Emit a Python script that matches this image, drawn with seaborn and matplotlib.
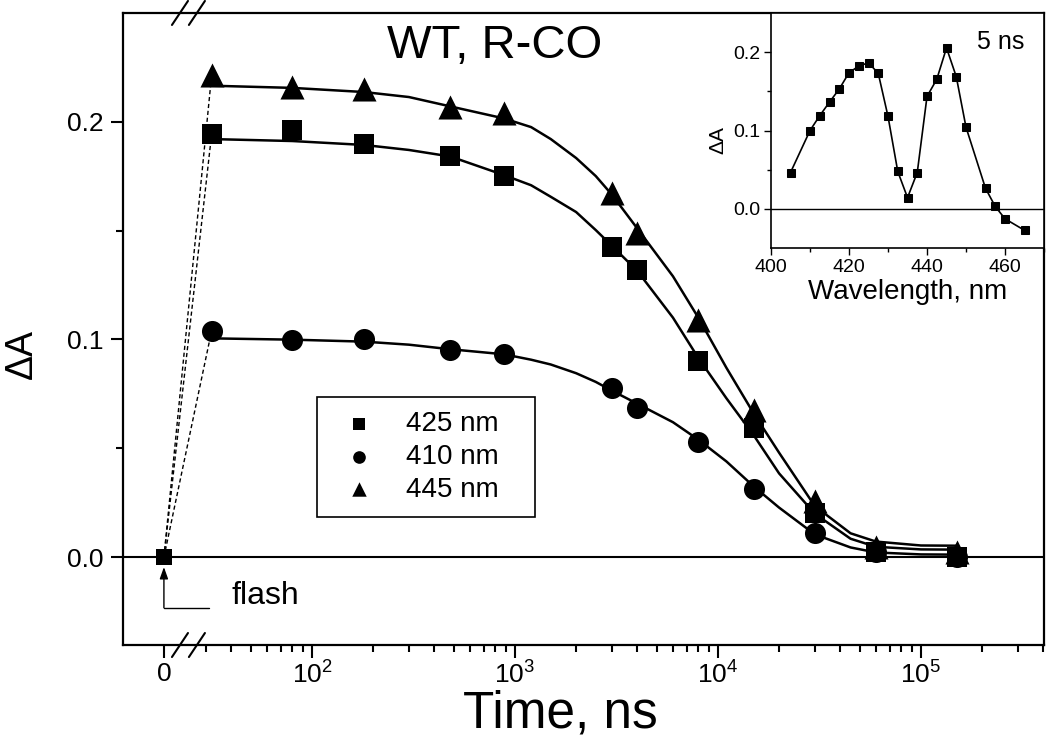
import numpy as np
import pandas as pd
import matplotlib
matplotlib.use("Agg")
import matplotlib.pyplot as plt
from matplotlib.ticker import FixedLocator, FixedFormatter, NullFormatter, FormatStrFormatter
import seaborn as sns

# flash point (t = 0) and the measured kinetics, time in ns
flash_t = [0]
flash_dA = [0.0]
time_ns = [32, 80, 180, 480, 880, 3000, 4000, 8000, 15000, 30000, 60000, 150000]
dA_425 = [0.1943, 0.1962, 0.1898, 0.1843, 0.1751, 0.1425, 0.1319, 0.0903, 0.0595, 0.0205, 0.0026, 0.0003]
dA_410 = [0.1040, 0.0999, 0.1003, 0.0953, 0.0935, 0.0779, 0.0687, 0.0531, 0.0315, 0.0113, 0.0026, 0.0003]
dA_445 = [0.2214, 0.2159, 0.2150, 0.2067, 0.2040, 0.1673, 0.1490, 0.1090, 0.0678, 0.0256, 0.0049, 0.0022]

# fitted curves
fit_t = [32, 80, 180, 300, 480, 880, 1200, 1500, 2000, 2500, 3000, 4000, 6000, 8000,
         11000, 15000, 20000, 30000, 45000, 60000, 100000, 150000]
fit_425 = [0.1920, 0.1911, 0.1893, 0.1870, 0.1840, 0.1755, 0.1708, 0.1655, 0.1585, 0.1502,
           0.1430, 0.1315, 0.1100, 0.0915, 0.0730, 0.0560, 0.0385, 0.0200, 0.0085, 0.0048,
           0.0036, 0.0035]
fit_410 = [0.1005, 0.0999, 0.0990, 0.0976, 0.0955, 0.0932, 0.0907, 0.0885, 0.0845, 0.0805,
           0.0765, 0.0705, 0.0620, 0.0540, 0.0440, 0.0325, 0.0228, 0.0105, 0.0045, 0.0022,
           0.0013, 0.0012]
fit_445 = [0.2165, 0.2155, 0.2136, 0.2113, 0.2070, 0.2015, 0.1975, 0.1920, 0.1833, 0.1750,
           0.1665, 0.1510, 0.1290, 0.1100, 0.0870, 0.0660, 0.0480, 0.0235, 0.0110, 0.0072,
           0.0054, 0.0053]

# inset: difference spectrum at 5 ns
wl_nm = [405, 410, 412.5, 415, 417.5, 420, 422.5, 425, 427.5, 430, 432.5, 435, 437.5,
         440, 442.5, 445, 447.5, 450, 455, 457.5, 460, 465]
dA_5ns = [0.0464, 0.100, 0.119, 0.1363, 0.153, 0.1738, 0.1823, 0.1865, 0.173, 0.118, 0.0477,
          0.0143, 0.0464, 0.1435, 0.1654, 0.2055, 0.1688, 0.1042, 0.0262, 0.0030, -0.0127, -0.0274]

labels = ['425 nm', '410 nm', '445 nm']
markers = ['s', 'o', '^']
sizes = [190, 230, 300]

ZERO_AT = 1.27  # where t = 0 sits on the (broken) log axis

def fwd(x):
    x = np.asarray(x, dtype=float)
    with np.errstate(divide='ignore', invalid='ignore'):
        return np.where(x > 0, np.log10(np.where(x > 0, x, 1.0)), ZERO_AT)

def inv(y):
    return np.power(10.0, y)

sns.set_style("ticks", {"axes.edgecolor": "black", "xtick.color": "black",
                        "ytick.color": "black", "text.color": "black",
                        "axes.labelcolor": "black"})
plt.rcParams['font.family'] = ['Liberation Sans', 'DejaVu Sans']
plt.rcParams['mathtext.default'] = 'regular'

fig = plt.figure(figsize=(10.5, 7.45), dpi=100)
ax = fig.add_axes([0.1171, 0.1342, 0.8772, 0.8484])
ax.set_xscale('function', functions=(fwd, inv))

kin = pd.DataFrame({'t': time_ns, '425 nm': dA_425, '410 nm': dA_410, '445 nm': dA_445})
fit = pd.DataFrame({'t': fit_t, '425 nm': fit_425, '410 nm': fit_410, '445 nm': fit_445})

for lab, m, s in zip(labels, markers, sizes):
    sns.lineplot(x=fit['t'], y=fit[lab], color='k', lw=1.8, ax=ax, legend=False)
    sns.lineplot(x=flash_t + [kin['t'][0]], y=flash_dA + [kin[lab][0]], color='k',
                 lw=1, linestyle=(0, (3, 2)), ax=ax, legend=False)
    sns.scatterplot(x=kin['t'], y=kin[lab], marker=m, s=s, color='k', edgecolor='k',
                    linewidth=0, label=lab, zorder=4, ax=ax)
sns.scatterplot(x=flash_t, y=flash_dA, marker='s', s=130, color='k', linewidth=0,
                zorder=4, ax=ax, legend=False)

ax.axhline(0, color='k', lw=1.5, zorder=1)
ax.set_xlim(11.7, 4.04e5)
ax.set_ylim(-0.0403, 0.2499)

major_x = [0, 1e2, 1e3, 1e4, 1e5]
ax.xaxis.set_major_locator(FixedLocator(major_x))
ax.xaxis.set_major_formatter(FixedFormatter(['0', '$10^2$', '$10^3$', '$10^4$', '$10^5$']))
minor_x = [k * 10 ** d for d in range(1, 6) for k in range(2, 10)]
minor_x = [v for v in minor_x if 25 < v < 4.04e5]
ax.xaxis.set_minor_locator(FixedLocator(minor_x))
ax.xaxis.set_minor_formatter(NullFormatter())
ax.yaxis.set_major_locator(FixedLocator([0.0, 0.1, 0.2]))
ax.yaxis.set_minor_locator(FixedLocator([0.05, 0.15]))
ax.yaxis.set_major_formatter(FormatStrFormatter('%.1f'))
ax.tick_params(which='major', direction='out', length=9, width=1.5, labelsize=19, pad=5)
ax.tick_params(axis='x', which='major', pad=3)
ax.tick_params(which='minor', direction='out', length=5, width=1.5)
for sp in ax.spines.values():
    sp.set_linewidth(1.6)

ax.set_xlabel('Time, ns', fontsize=37)
ax.set_ylabel('ΔA', fontsize=27)
ax.xaxis.set_label_coords(0.4745, -0.071)
ax.yaxis.set_label_coords(-0.09, 0.46)

ax.text(0.404, 0.948, 'WT, R-CO', transform=ax.transAxes, ha='center', va='center', fontsize=34)

# flash marker
ax.annotate('', xy=(0, -0.0045), xytext=(0, -0.0232),
            arrowprops=dict(arrowstyle='-|>,head_length=0.7,head_width=0.25', color='k',
                            lw=1, shrinkA=0, shrinkB=0))
ax.plot([0, 31], [-0.0232, -0.0232], color='k', lw=1)
ax.text(40, -0.0176, 'flash', ha='left', va='center', fontsize=23)

# axis break marks
for xc in (0.0619, 0.0803):
    for yc in (0, 1):
        ax.plot([xc - 0.0087, xc + 0.0087], [yc - 0.019, yc + 0.019], color='k', lw=1.5,
                transform=ax.transAxes, clip_on=False)

handles, labs = ax.get_legend_handles_labels()
leg = ax.legend(handles[:3], labs[:3], loc='upper left',
                bbox_to_anchor=(0.2106, 0.0, 0.2367, 0.3924), mode='expand',
                borderaxespad=0, frameon=True, fancybox=False, edgecolor='k',
                markerscale=0.6, fontsize=20, handletextpad=0.7, borderpad=0.5,
                labelspacing=0.25, framealpha=1)
leg.get_frame().set_linewidth(1.2)

# inset
ax2 = fig.add_axes([0.7343, 0.6671, 0.26, 0.3154])
sns.lineplot(x=wl_nm, y=dA_5ns, marker='s', markersize=6, color='k', lw=1.2,
             markeredgecolor='k', ax=ax2)
ax2.axhline(0, color='k', lw=1)
ax2.set_xlim(400, 470)
ax2.set_ylim(-0.05, 0.25)
ax2.xaxis.set_major_locator(FixedLocator([400, 420, 440, 460]))
ax2.xaxis.set_minor_locator(FixedLocator([410, 430, 450, 470]))
ax2.yaxis.set_major_locator(FixedLocator([0.0, 0.1, 0.2]))
ax2.yaxis.set_minor_locator(FixedLocator([0.05, 0.15]))
ax2.yaxis.set_major_formatter(FormatStrFormatter('%.1f'))
ax2.tick_params(which='major', direction='out', length=5, width=1, labelsize=14, pad=3)
ax2.tick_params(which='minor', direction='out', length=3, width=1)
for sp in ax2.spines.values():
    sp.set_linewidth(1.2)
ax2.set_xlabel('Wavelength, nm', fontsize=20, labelpad=2)
ax2.set_ylabel('ΔA', fontsize=15, labelpad=2)
ax2.yaxis.set_label_coords(-0.16, 0.46)
ax2.text(0.843, 0.877, '5 ns', transform=ax2.transAxes, ha='center', va='center', fontsize=18)

fig.savefig('out.png', dpi=100)
